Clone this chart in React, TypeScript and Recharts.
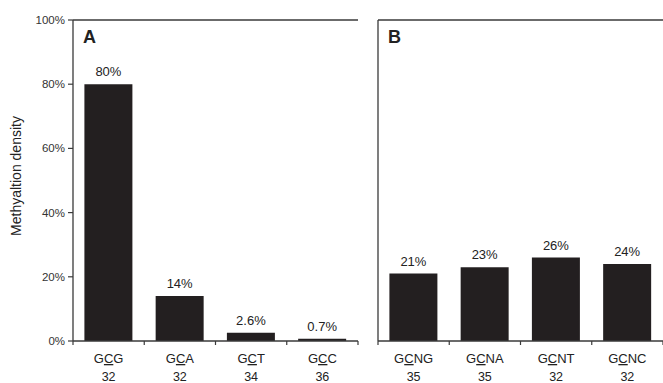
// Two-panel methylation density bar chart (panels A and B share one y scale).
import { BarChart, Bar, XAxis, YAxis, LabelList, ReferenceLine } from "recharts";

const motifsA = ["GCG", "GCA", "GCT", "GCC"];
const densityA = [80, 14, 2.6, 0.7];
const countsA = [32, 32, 34, 36];

const motifsB = ["GCNG", "GCNA", "GCNT", "GCNC"];
const densityB = [21, 23, 26, 24];
const countsB = [35, 35, 32, 32];

const yTicks = [0, 20, 40, 60, 80, 100];

const FONT = "'Liberation Sans', Arial, sans-serif";
const INK = "#222";
const FRAME = "#3a3a3a";
const BAR = "#231f20";
const BAND = 71.25;

const pct = (v: number) => (Number.isInteger(v) ? `${v}%` : `${v.toFixed(1)}%`);

function makeTick(counts: number[], lastIndex: number) {
  return function MotifTick(props: any) {
    const { x, y, payload, index } = props;
    const s: string = payload.value;
    return (
      <g>
        <line x1={x - BAND / 2} x2={x - BAND / 2} y1={y} y2={y + 4} stroke={FRAME} strokeWidth={1.2} />
        {index === lastIndex && (
          <line x1={x + BAND / 2} x2={x + BAND / 2} y1={y} y2={y + 4} stroke={FRAME} strokeWidth={1.2} />
        )}
        <text x={x} y={y + 22} textAnchor="middle" fontSize={13} fill={INK} fontFamily={FONT}>
          <tspan>{s[0]}</tspan>
          <tspan style={{ textDecoration: "underline" }}>{s[1]}</tspan>
          <tspan>{s.slice(2)}</tspan>
        </text>
        <text x={x} y={y + 40} textAnchor="middle" fontSize={12.5} fill={INK} fontFamily={FONT}>
          {counts[index]}
        </text>
      </g>
    );
  };
}

const YTitle = () => (
  <text
    transform="translate(21, 176) rotate(-90)"
    textAnchor="middle"
    fontSize={14}
    fill={INK}
    fontFamily={FONT}
  >
    Methyaltion density
  </text>
);

function Panel({
  motifs,
  density,
  counts,
  width,
  yWidth,
  showYLabels,
  rightFrame,
  letter,
}: {
  motifs: string[];
  density: number[];
  counts: number[];
  width: number;
  yWidth: number;
  showYLabels: boolean;
  rightFrame: boolean;
  letter: string;
}) {
  const data = motifs.map((m, i) => ({ motif: m, value: density[i] }));
  return (
    <div style={{ position: "relative", width, height: 383 }}>
      <BarChart
        width={width}
        height={383}
        data={data}
        margin={{ top: 20, right: rightFrame ? 7 : 0, bottom: 0, left: 0 }}
        barCategoryGap="16%"
      >
        <XAxis
          dataKey="motif"
          height={42}
          tickSize={0}
          tickMargin={0}
          tickLine={false}
          axisLine={{ stroke: FRAME, strokeWidth: 1.3 }}
          tick={makeTick(counts, motifs.length - 1)}
          interval={0}
        />
        <YAxis
          domain={[0, 100]}
          ticks={yTicks}
          width={yWidth}
          tickSize={5}
          tickMargin={3}
          tickLine={{ stroke: FRAME, strokeWidth: 1.2 }}
          axisLine={{ stroke: FRAME, strokeWidth: 1.3 }}
          tick={showYLabels ? { fontSize: 11.5, fill: "#333", fontFamily: FONT } : false}
          tickFormatter={(v: number) => `${v}%`}
          label={showYLabels ? { content: YTitle } : undefined}
        />
        {rightFrame && (
          <YAxis
            yAxisId="right"
            orientation="right"
            domain={[0, 100]}
            width={0}
            tick={false}
            tickLine={false}
            axisLine={{ stroke: FRAME, strokeWidth: 1.3 }}
          />
        )}
        <ReferenceLine y={100} stroke={FRAME} strokeWidth={1.3} />
        <Bar dataKey="value" fill={BAR} isAnimationActive={false}>
          <LabelList
            dataKey="value"
            position="top"
            offset={8}
            formatter={(v: any) => pct(Number(v))}
            style={{ fontSize: 13, fill: INK, fontFamily: FONT }}
          />
        </Bar>
      </BarChart>
      <div
        style={{
          position: "absolute",
          left: yWidth + 10,
          top: 27,
          fontFamily: FONT,
          fontWeight: "bold",
          fontSize: 18,
          color: INK,
          lineHeight: "20px",
        }}
      >
        {letter}
      </div>
    </div>
  );
}

export default function App() {
  return (
    <div
      style={{
        position: "absolute",
        left: 0,
        top: 0,
        width: 663,
        height: 383,
        background: "#fff",
        display: "flex",
      }}
    >
      <Panel
        motifs={motifsA}
        density={densityA}
        counts={countsA}
        width={365}
        yWidth={73}
        showYLabels
        rightFrame
        letter="A"
      />
      <div style={{ position: "absolute", left: 360, top: 0 }}>
        <Panel
          motifs={motifsB}
          density={densityB}
          counts={countsB}
          width={303}
          yWidth={18}
          showYLabels={false}
          rightFrame={false}
          letter="B"
        />
      </div>
    </div>
  );
}
